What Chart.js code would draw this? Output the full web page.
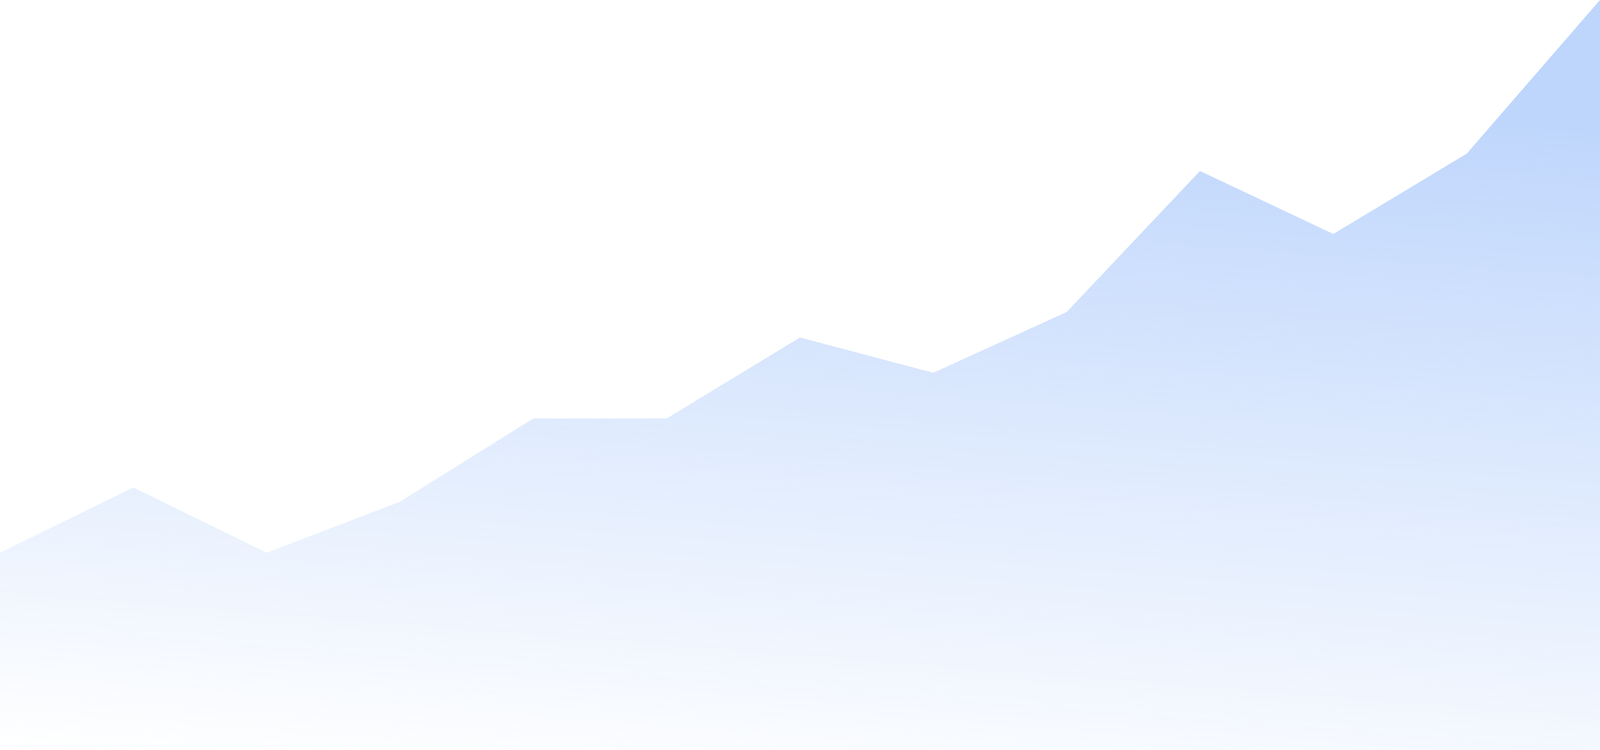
<!DOCTYPE html>
<html>
<head>
<meta charset="utf-8">
<title>Area</title>
<script src="https://cdn.jsdelivr.net/npm/chart.js@4.4.1/dist/chart.umd.min.js"></script>
<style>
  html, body { margin: 0; padding: 0; background: #fff; overflow: hidden; width: 100%; height: 100%; }
  #wrap { position: fixed; left: 0; top: 0; width: 100vw; height: 100vh; }
  #areaChart { display: block; }
</style>
</head>
<body>
<div id="wrap"><canvas id="areaChart"></canvas></div>
<script>
// categories and values (scale 0..100)
const labels = ['1', '2', '3', '4', '5', '6', '7', '8', '9', '10', '11', '12', '13'];
const values = [26.3, 35, 26.3, 33.1, 44.2, 44.2, 55, 50.3, 58.4, 77.2, 68.8, 79.5, 100];
const yMin = 0;
const yMax = 100;

document.addEventListener('DOMContentLoaded', () => {
  const ctx = document.getElementById('areaChart').getContext('2d');

  // fill gradient: light blue on top, fading to white at the bottom
  const fillGradient = (context) => {
    const area = context.chart.chartArea;
    if (!area) return 'rgba(59, 130, 246, 0.2)';
    const g = context.chart.ctx.createLinearGradient(area.left + 150, area.top, area.left, area.bottom);
    g.addColorStop(0, 'rgba(59, 130, 246, 0.33)');
    g.addColorStop(1, 'rgba(59, 130, 246, 0)');
    return g;
  };

  new Chart(ctx, {
    type: 'line',
    data: {
      labels: labels,
      datasets: [{
        data: values,
        fill: 'start',
        backgroundColor: fillGradient,
        borderWidth: 0,
        borderColor: 'rgba(0,0,0,0)',
        pointRadius: 0,
        tension: 0
      }]
    },
    options: {
      responsive: true,
      maintainAspectRatio: false,
      animation: false,
      layout: { padding: 0 },
      plugins: {
        legend: { display: false },
        tooltip: { enabled: false }
      },
      scales: {
        x: { display: false, offset: false },
        y: { display: false, min: yMin, max: yMax }
      }
    }
  });
});
</script>
</body>
</html>
